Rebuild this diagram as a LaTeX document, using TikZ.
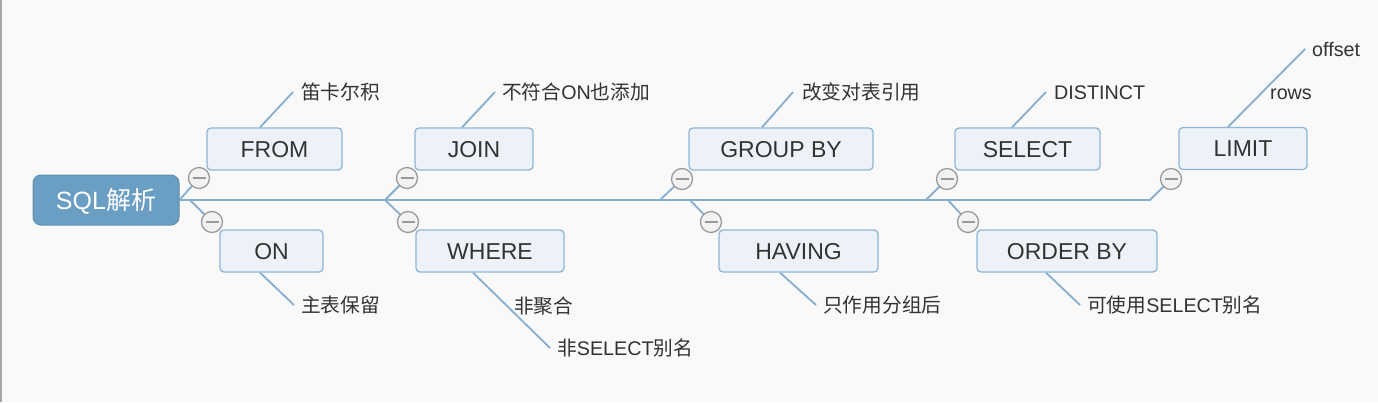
\documentclass[tikz,border=0pt]{standalone}
\usepackage{fontspec}
\setmainfont{Liberation Sans}
\newfontfamily\cjk{Noto Sans CJK SC}
\usetikzlibrary{backgrounds}
\definecolor{bgc}{HTML}{F8F9F8}
\definecolor{linec}{HTML}{86AED0}
\definecolor{boxfill}{HTML}{EDF2F8}
\definecolor{boxdraw}{HTML}{8FB5D8}
\definecolor{rootfill}{HTML}{6A9EC3}
\definecolor{txt}{HTML}{333333}
\definecolor{circd}{HTML}{9A9A9A}
\definecolor{circf}{HTML}{F2F2F2}
\tikzset{
  topic/.style={draw=boxdraw, fill=boxfill, line width=1.3pt, rounded corners=4pt,
    minimum height=42pt, inner sep=0pt, text=txt,
    font=\fontsize{23}{23}\selectfont, text height=16pt, text depth=0pt},
  rootbox/.style={draw=rootfill!90!black, fill=rootfill, line width=1pt, rounded corners=8pt,
    minimum height=50pt, minimum width=146pt, inner sep=0pt, text=white,
    font=\fontsize{25}{25}\selectfont, text height=18pt, text depth=0pt},
  leaf/.style={anchor=west, inner sep=0pt, text=txt,
    font=\fontsize{19.7}{19.7}\selectfont, text height=14pt, text depth=0pt},
  fold/.style={circle, draw=circd, fill=circf, line width=1.3pt, minimum size=21pt, inner sep=0pt,
    path picture={\draw[circd, line width=1.2pt] ([xshift=-6.5pt]path picture bounding box.center) -- ([xshift=6.5pt]path picture bounding box.center);}},
  conn/.style={draw=linec, line width=1.8pt},
}
\begin{document}
\begin{tikzpicture}[x=1pt, y=-1pt]
\useasboundingbox (0,0) rectangle (1378,402);
% root and topics
\node[rootbox] (root) at (106,200) {SQL{\cjk 解析}};
\node[topic, minimum width=135pt] (from)  at (274.5,149) {FROM};
\node[topic, minimum width=103pt] (on)    at (271.5,251) {ON};
\node[topic, minimum width=118pt] (join)  at (474,149) {JOIN};
\node[topic, minimum width=148pt] (where) at (490,251) {WHERE};
\node[topic, minimum width=184pt] (group) at (781,149) {GROUP BY};
\node[topic, minimum width=159pt] (having) at (798.5,251) {HAVING};
\node[topic, minimum width=145pt] (select) at (1027.5,149) {SELECT};
\node[topic, minimum width=180pt] (order) at (1067,251) {ORDER BY};
\node[topic, minimum width=128pt] (limit) at (1243,148.5) {LIMIT};
% fold markers
\node[fold] (cfrom)   at (199,178) {};
\node[fold] (con)     at (212,222) {};
\node[fold] (cjoin)   at (407,178) {};
\node[fold] (cwhere)  at (408,222) {};
\node[fold] (cgroup)  at (682,179) {};
\node[fold] (chaving) at (711,222) {};
\node[fold] (cselect) at (947,179) {};
\node[fold] (corder)  at (968,222) {};
\node[fold] (climit)  at (1171,179) {};
% leaves
\node[leaf] (lfrom)   at (301,92)  {\cjk 笛卡尔积};
\node[leaf] (lon)     at (301,305) {\cjk 主表保留};
\node[leaf] (ljoin)   at (502,92)  {{\cjk 不符合}ON{\cjk 也添加}};
\node[leaf] (lwhere1) at (514,306) {\cjk 非聚合};
\node[leaf] (lwhere2) at (557,348) {{\cjk 非}SELECT{\cjk 别名}};
\node[leaf] (lgroup)  at (802,92)  {\cjk 改变对表引用};
\node[leaf] (lhaving) at (823,305) {\cjk 只作用分组后};
\node[leaf] (lselect) at (1054,92) {DISTINCT};
\node[leaf] (lorder)  at (1087,305) {{\cjk 可使用}SELECT{\cjk 别名}};
\node[leaf] (loffset) at (1312,49) {offset};
\node[leaf] (lrows)   at (1270,92) {rows};
% junctions
\coordinate (j1d) at (190,200);
\coordinate (j2) at (385,200);
\coordinate (j3u) at (660,200);
\coordinate (j3d) at (690,200);
\coordinate (j4u) at (926,200);
\coordinate (j4d) at (948,200);
\coordinate (jend) at (1150,200);
\begin{scope}[on background layer]
  \fill[bgc] (0,0) rectangle (1378,402);
  \draw[gray!70, line width=2pt] (1,0) -- (1,402);
  \draw[conn] (root.east) -- (jend) -- (climit.center);
  \draw[conn] (root.east) -- (cfrom.center);
  \draw[conn] (j1d) -- (con.center);
  \draw[conn] (j2) -- (cjoin.center);
  \draw[conn] (j2) -- (cwhere.center);
  \draw[conn] (j3u) -- (cgroup.center);
  \draw[conn] (j3d) -- (chaving.center);
  \draw[conn] (j4u) -- (cselect.center);
  \draw[conn] (j4d) -- (corder.center);
  % leaf connectors
  \draw[conn] ([xshift=-14.5pt]from.north) -- ([xshift=-8pt]lfrom.west);
  \draw[conn] ([xshift=-11.5pt]on.south) -- ([xshift=-7pt]lon.west);
  \draw[conn] ([xshift=-12pt]join.north) -- ([xshift=-7pt]ljoin.west);
  \draw[conn] ([xshift=-17pt]where.south) -- ([xshift=-7pt]lwhere2.west);
  \draw[conn] ([xshift=-19pt]group.north) -- ([xshift=-9pt]lgroup.west);
  \draw[conn] ([xshift=-18.5pt]having.south) -- ([xshift=-7pt]lhaving.west);
  \draw[conn] ([xshift=-15.5pt]select.north) -- ([xshift=-8pt]lselect.west);
  \draw[conn] ([xshift=-21pt]order.south) -- ([xshift=-7pt]lorder.west);
  \draw[conn] ([xshift=-15pt]limit.north) -- ([xshift=-7pt]loffset.west);
\end{scope}
\end{tikzpicture}
\end{document}
